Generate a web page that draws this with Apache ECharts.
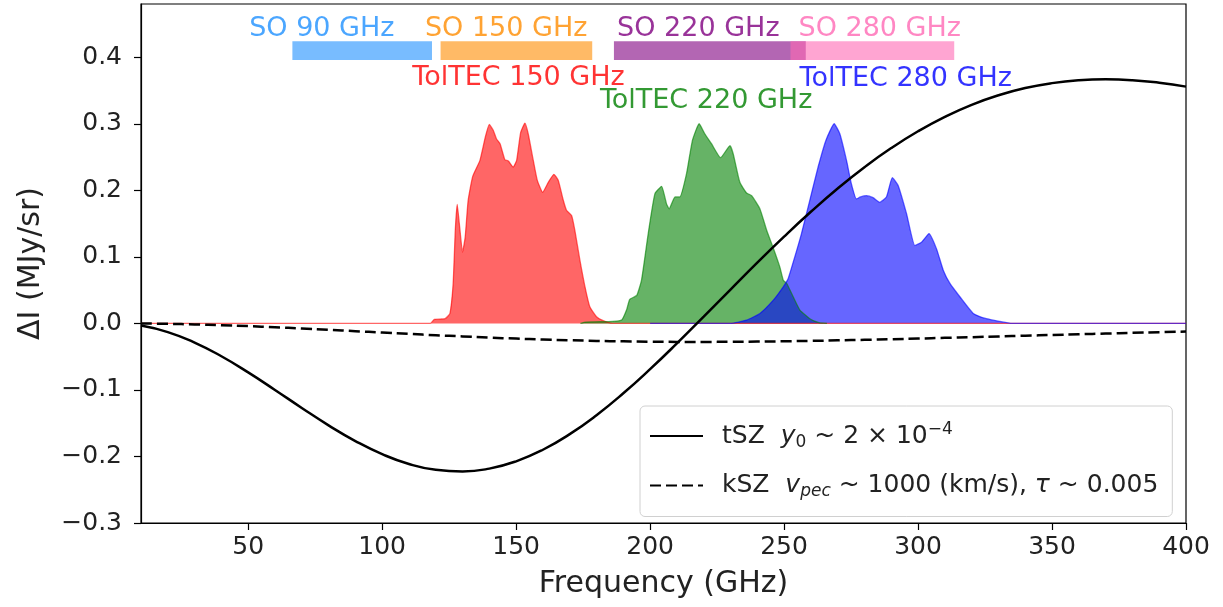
<!DOCTYPE html>
<html>
<head>
<meta charset="utf-8">
<script src="https://cdn.jsdelivr.net/npm/echarts@6/dist/echarts.min.js"></script>
<style>
  html, body { margin: 0; padding: 0; background: #fff; }
  #chart { width: 1223px; height: 607px; }
</style>
</head>
<body>
<div id="chart"></div>
<script>
// SZ spectra, MJy/sr vs GHz
var freq = [10, 20, 30, 40, 50, 60, 70, 80, 90, 100, 110, 120, 130, 140, 150, 160, 170, 180, 190, 200,
  210, 220, 230, 240, 250, 260, 270, 280, 290, 300, 310, 320, 330, 340, 350, 360, 370, 380, 390, 400];
var tsz = [-0.0033, -0.0131, -0.0288, -0.0494, -0.0736, -0.1000, -0.1271, -0.1532, -0.1768, -0.1965,
  -0.2113, -0.2201, -0.2226, -0.2183, -0.2073, -0.1899, -0.1665, -0.1380, -0.1051, -0.0688,
  -0.0301, 0.0101, 0.0508, 0.0912, 0.1304, 0.1677, 0.2027, 0.2347, 0.2635, 0.2887,
  0.3104, 0.3285, 0.3428, 0.3537, 0.3611, 0.3654, 0.3668, 0.3655, 0.3617, 0.3558];
var ksz = [-0.0002, -0.0007, -0.0016, -0.0027, -0.0041, -0.0058, -0.0076, -0.0096, -0.0117, -0.0137,
  -0.0158, -0.0178, -0.0196, -0.0214, -0.0229, -0.0243, -0.0254, -0.0263, -0.0270, -0.0275,
  -0.0278, -0.0278, -0.0277, -0.0274, -0.0269, -0.0263, -0.0255, -0.0247, -0.0238, -0.0228,
  -0.0217, -0.0207, -0.0196, -0.0185, -0.0174, -0.0163, -0.0153, -0.0142, -0.0132, -0.0123];

// TolTEC passbands [GHz, value]
var toltec150 = [[10, 0], [118, 0], [119.5, 0.006], [123.5, 0.007], [125.3, 0.015], [126.5, 0.06],
  [127.3, 0.14], [128.0, 0.179], [128.8, 0.15], [130.0, 0.107], [131.0, 0.13], [132.1, 0.185],
  [133.8, 0.221], [136.5, 0.245], [138.5, 0.28], [140.0, 0.299], [141.5, 0.29], [142.7, 0.277],
  [144.0, 0.270], [145.8, 0.246], [147.1, 0.244], [148.9, 0.235], [150.2, 0.245], [151.7, 0.287],
  [153.3, 0.301], [154.5, 0.285], [156.4, 0.245], [157.9, 0.215], [159.9, 0.197], [162.0, 0.212],
  [164.1, 0.224], [165.7, 0.215], [167.6, 0.185], [168.8, 0.170], [170.7, 0.162], [171.9, 0.140],
  [173.8, 0.095], [175.7, 0.055], [177.5, 0.025], [180.0, 0.010], [182.5, 0.004], [186, 0], [400, 0]];
var toltec220 = [[174, 0], [176, 0.002], [186, 0.003], [189.4, 0.005], [191.2, 0.020], [192.4, 0.036],
  [195.0, 0.042], [196.8, 0.065], [199.3, 0.135], [201.8, 0.195], [204.3, 0.206], [206.1, 0.180],
  [207.1, 0.172], [209.3, 0.190], [211.1, 0.190], [213.6, 0.225], [215.8, 0.275], [218.3, 0.300],
  [220.4, 0.285], [222.9, 0.270], [226.3, 0.249], [229.8, 0.267], [231.0, 0.255], [233.5, 0.212],
  [236.0, 0.196], [237.9, 0.192], [241.0, 0.172], [243.5, 0.140], [246.0, 0.113], [248.4, 0.085],
  [249.7, 0.065], [251.0, 0.060], [253.4, 0.040], [255.9, 0.020], [259.6, 0.007], [263, 0.001], [266, 0]];
var toltec280 = [[200, 0], [230, 0], [236, 0.005], [241, 0.015], [246, 0.035], [249.7, 0.055],
  [251.5, 0.067], [254.0, 0.100], [256.5, 0.135], [259.6, 0.185], [262.7, 0.235], [265.6, 0.275],
  [268.7, 0.300], [270.8, 0.285], [273.3, 0.245], [275.1, 0.210], [277.0, 0.187], [278.5, 0.190],
  [280.7, 0.192], [283.2, 0.189], [285.7, 0.182], [288.2, 0.190], [290.4, 0.219], [292.6, 0.207],
  [295.7, 0.165], [298.8, 0.117], [301.3, 0.122], [304.1, 0.135], [306.9, 0.112], [309.4, 0.080],
  [311.9, 0.060], [315.6, 0.040], [320.6, 0.015], [325.5, 0.007], [330.5, 0.003], [335, 0], [400, 0]];

// Simons Observatory bands (GHz) and annotation text
var soBands = [[66.5, 118.6], [121.8, 178.4], [186.5, 258.1], [252.4, 313.5]];
var soBandY = [0.396, 0.424];
var soLabels = ['SO 90 GHz', 'SO 150 GHz', 'SO 220 GHz', 'SO 280 GHz'];
var soLabelX = [77.5, 146.3, 218.0, 285.7];
var soLabelY = [0.443, 0.443, 0.443, 0.443];
var toltecLabels = ['TolTEC 150 GHz', 'TolTEC 220 GHz', 'TolTEC 280 GHz'];
var toltecLabelX = [150.9, 220.9, 295.4];
var toltecLabelY = [0.3695, 0.3345, 0.367];

var soColors = ['#1e90ff', '#ff8c00', '#800080', '#ff69b4'];
var toltecColors = ['#ff0000', '#008000', '#0000ff'];
var FONT = 'DejaVu Sans';

var chart = echarts.init(document.getElementById('chart'), null, { renderer: 'canvas' });

function pairs(xs, ys) {
  return xs.map(function (x, i) { return [x, ys[i]]; });
}

var labelData = [];
soLabels.forEach(function (t, i) {
  labelData.push({ value: [soLabelX[i], soLabelY[i]], name: t, label: { color: soColors[i] } });
});
toltecLabels.forEach(function (t, i) {
  labelData.push({ value: [toltecLabelX[i], toltecLabelY[i]], name: t, label: { color: toltecColors[i] } });
});

var bandAreas = soBands.map(function (b, i) {
  return [
    { xAxis: b[0], yAxis: soBandY[0], itemStyle: { color: soColors[i], opacity: 0.6 } },
    { xAxis: b[1], yAxis: soBandY[1] }
  ];
});

function passband(name, data, color) {
  return {
    name: name,
    type: 'line',
    data: data,
    symbol: 'none',
    smooth: 0.15,
    lineStyle: { color: color, opacity: 0.6, width: 1.3 },
    areaStyle: { color: color, opacity: 0.6 },
    silent: true
  };
}

var option = {
  animation: false,
  textStyle: { fontFamily: FONT },
  grid: { left: 141, right: 37, top: 4, bottom: 84, show: true, borderColor: '#000', borderWidth: 1.2 },
  legend: {
    data: ['tSZ', 'kSZ'],
    orient: 'vertical',
    left: 640,
    top: 406,
    padding: [15, 14, 16, 9],
    itemGap: 22,
    itemWidth: 53,
    itemHeight: 14,
    backgroundColor: 'rgba(255,255,255,0.8)',
    borderColor: '#d0d0d0',
    borderWidth: 1,
    borderRadius: 5,
    itemStyle: { opacity: 0 },
    formatter: function (name) {
      if (name === 'tSZ') return '{t|tSZ  }{i|y}{sub|0}{t| ~ 2 × 10}{sup|−4}';
      return '{t|kSZ  }{i|v}{subi|pec}{t| ~ 1000 (km/s), }{i|τ}{t| ~ 0.005}';
    },
    textStyle: {
      padding: [0, 0, 0, 14],
      rich: {
        t: { fontFamily: FONT, fontSize: 25, color: '#222', lineHeight: 30 },
        i: { fontFamily: FONT, fontSize: 25, fontStyle: 'italic', color: '#222', lineHeight: 30 },
        sub: { fontFamily: FONT, fontSize: 17, color: '#222', lineHeight: 16, verticalAlign: 'bottom' },
        subi: { fontFamily: FONT, fontSize: 17, fontStyle: 'italic', color: '#222', lineHeight: 16, verticalAlign: 'bottom' },
        sup: { fontFamily: FONT, fontSize: 17, color: '#222', lineHeight: 14, verticalAlign: 'top' }
      }
    }
  },
  xAxis: {
    type: 'value',
    min: 10,
    max: 400,
    splitNumber: 8,
    name: 'Frequency (GHz)',
    nameLocation: 'middle',
    nameGap: 46,
    nameTextStyle: { fontFamily: FONT, fontSize: 30, color: '#222' },
    axisLine: { onZero: false, lineStyle: { color: '#000', width: 1.2 } },
    axisTick: { length: 7, lineStyle: { color: '#000', width: 1.2 } },
    axisLabel: { showMinLabel: false, margin: 12, fontFamily: FONT, fontSize: 25, color: '#222' },
    splitLine: { show: false }
  },
  yAxis: {
    type: 'value',
    min: -0.3,
    max: 0.48,
    interval: 0.1,
    name: 'ΔI (MJy/sr)',
    nameLocation: 'middle',
    nameGap: 95,
    nameTextStyle: { fontFamily: FONT, fontSize: 30, color: '#222' },
    axisLine: { onZero: false, lineStyle: { color: '#000', width: 1.2 } },
    axisTick: { length: 7, lineStyle: { color: '#000', width: 1.2 } },
    axisLabel: {
      showMaxLabel: false,
      margin: 19,
      fontFamily: FONT,
      fontSize: 25,
      color: '#222',
      formatter: function (v) {
        if (Math.abs(v) < 1e-9) return '0.0';
        return v.toFixed(1).replace('-', '−');
      }
    },
    splitLine: { show: false }
  },
  series: [
    {
      name: 'labels',
      type: 'scatter',
      data: labelData,
      symbolSize: 1,
      itemStyle: { color: 'transparent' },
      silent: true,
      label: {
        show: true,
        position: 'inside',
        fontFamily: FONT,
        fontSize: 27,
        formatter: function (p) { return p.name; }
      },
      markArea: { silent: true, data: bandAreas }
    },
    passband('TolTEC 150', toltec150, toltecColors[0]),
    passband('TolTEC 220', toltec220, toltecColors[1]),
    passband('TolTEC 280', toltec280, toltecColors[2]),
    {
      name: 'kSZ',
      type: 'line',
      data: pairs(freq, ksz),
      symbol: 'none',
      smooth: true,
      lineStyle: { color: '#000', width: 2.5, type: [11, 5] },
      itemStyle: { color: '#000' }
    },
    {
      name: 'tSZ',
      type: 'line',
      data: pairs(freq, tsz),
      symbol: 'none',
      smooth: true,
      lineStyle: { color: '#000', width: 2.5 },
      itemStyle: { color: '#000' }
    }
  ]
};

chart.setOption(option);
</script>
</body>
</html>
